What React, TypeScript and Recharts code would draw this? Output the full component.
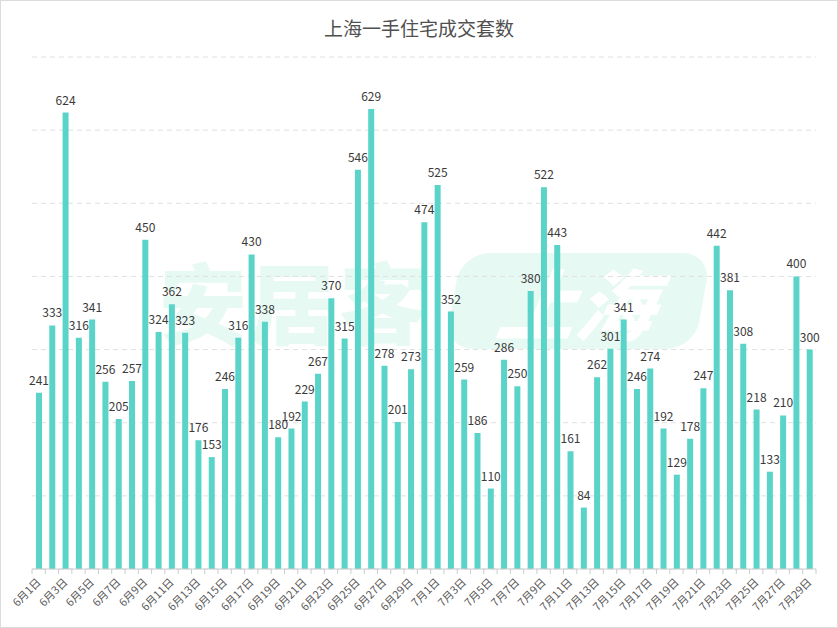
import React from 'react';
import { BarChart, Bar, XAxis, YAxis, CartesianGrid, LabelList } from 'recharts';

// 6月1日 .. 7月29日
const juneValues = [
  241, 333, 624, 316, 341, 256, 205, 257, 450, 324,
  362, 323, 176, 153, 246, 316, 430, 338, 180, 192,
  229, 267, 370, 315, 546, 629, 278, 201, 273, 474,
];
const julyValues = [
  525, 352, 259, 186, 110, 286, 250, 380, 522, 443,
  161, 84, 262, 301, 341, 246, 274, 192, 129, 178,
  247, 442, 381, 308, 218, 133, 210, 400, 300,
];
const yTicks = [0, 100, 200, 300, 400, 500, 600, 700];

const days = [
  ...juneValues.map((v, i) => ({ day: `6月${i + 1}日`, value: v })),
  ...julyValues.map((v, i) => ({ day: `7月${i + 1}日`, value: v })),
];

const FONT = '"Microsoft YaHei", "Noto Sans CJK SC", sans-serif';
const BAR = '#5ad4c9';
const BAND = 784 / days.length;

function DayTick(props: any) {
  const { x, y, payload } = props;
  const idx = payload.index;
  return (
    <g>
      <line x1={x - BAND / 2} y1={y - 8} x2={x - BAND / 2} y2={y - 3} stroke="#cccccc" />
      {idx === days.length - 1 && (
        <line x1={x + BAND / 2} y1={y - 8} x2={x + BAND / 2} y2={y - 3} stroke="#cccccc" />
      )}
      {idx % 2 === 0 && (
        <text
          x={x + 3}
          y={y + 6}
          textAnchor="end"
          fontSize={11}
          fill="#595959"
          fontFamily={FONT}
          transform={`rotate(-45, ${x + 3}, ${y + 6})`}
        >
          {payload.value}
        </text>
      )}
    </g>
  );
}

export default function App() {
  return (
    <div style={{ position: 'absolute', left: 0, top: 0, width: 836, height: 626, border: '1px solid #dcdcdc', background: '#fff', fontFamily: FONT }}>
      {/* watermark */}
      <div style={{ position: 'absolute', left: 158, top: 248, fontSize: 88, fontWeight: 900, color: '#e6f9f2', letterSpacing: 2, lineHeight: '100px' }}>
        安居客
      </div>
      <div style={{ position: 'absolute', left: 452, top: 252, width: 250, height: 96, borderRadius: 28, background: '#e6f9f2', transform: 'skewX(-10deg)' }}>
        <div style={{ fontSize: 78, fontWeight: 900, color: '#ffffff', fontStyle: 'italic', textAlign: 'center', lineHeight: '96px' }}>上海</div>
      </div>
      <div style={{ position: 'absolute', left: 0, top: 13, width: 836, textAlign: 'center', fontSize: 19, color: '#505050' }}>
        上海一手住宅成交套数
      </div>
      <div style={{ position: 'absolute', left: -1, top: -1 }}>
        <BarChart width={838} height={628} data={days} margin={{ top: 57, right: 22, bottom: 9, left: 32 }}>
          <CartesianGrid vertical={false} stroke="#e0e0e0" strokeDasharray="5 4" />
          <YAxis hide domain={[0, 700]} ticks={yTicks} />
          <XAxis
            dataKey="day"
            interval={0}
            height={50}
            tick={<DayTick />}
            tickLine={false}
            axisLine={{ stroke: '#cccccc' }}
          />
          <Bar dataKey="value" fill={BAR} barSize={6} isAnimationActive={false}>
            <LabelList dataKey="value" position="top" offset={8} fontSize={12} fill="#3a3a3a" fontFamily={FONT} />
          </Bar>
        </BarChart>
      </div>
    </div>
  );
}
